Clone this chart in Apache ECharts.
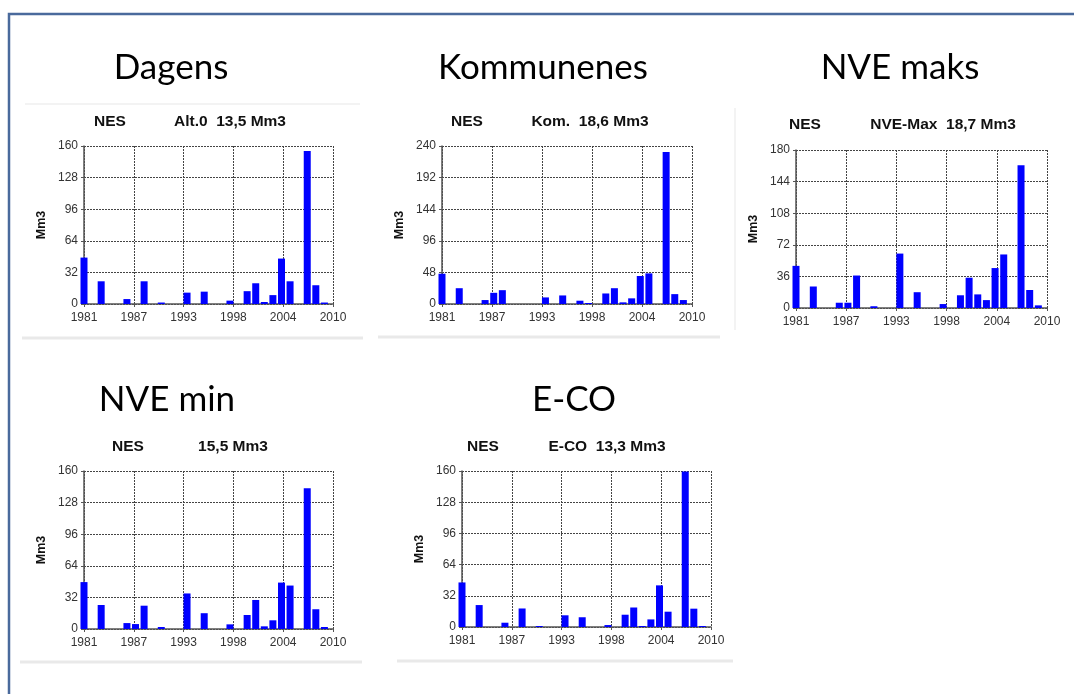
<!DOCTYPE html>
<html>
<head>
<meta charset="utf-8">
<title>NES</title>
<script src="https://cdn.jsdelivr.net/npm/echarts@6/dist/echarts.min.js"></script>
<style>
    html, body { margin: 0; padding: 0; background: #fff; }
    #main { width: 1074px; height: 694px; }
</style>
</head>
<body>
<div id="main"></div>
<script>
// years on the x axis (one bar slot per year)
var years = [1981, 1982, 1983, 1984, 1985, 1986, 1987, 1988, 1989, 1990,
             1991, 1992, 1993, 1994, 1995, 1996, 1997, 1998, 1999, 2000,
             2001, 2002, 2003, 2004, 2005, 2006, 2007, 2008, 2009];
var xTickLabels = ['1981', '1987', '1993', '1998', '2004', '2010'];

// Mm3 per year
var dagens      = [47, 0, 23, 0, 0, 5, 0, 23, 0, 1.5, 0, 0, 11.5, 0, 12.5, 0, 0, 3.4, 0, 13,
                   21, 2, 9, 46, 23, 0, 155, 19, 1.5];
var kommunenes  = [46, 0, 24, 0, 0, 6, 17, 21, 0, 0, 0, 0, 10, 0, 13, 0, 5, 1.5, 0, 16,
                   24, 2.5, 8.6, 42.5, 46.5, 0, 231, 15, 6];
var nveMaks     = [48, 0, 24.5, 0, 0, 6, 6, 37, 0, 2, 0, 0, 62, 0, 18, 0, 0, 4.5, 0, 14.5,
                   34.5, 15.5, 9, 45.5, 61, 0, 162.5, 20.5, 3];
var nveMin      = [47.5, 0, 24.3, 0, 0, 6, 5, 23.6, 0, 2, 0, 0, 36, 0, 16, 0, 0, 4.7, 0, 14.2,
                   29.4, 2.7, 8.8, 47, 44, 0, 142.5, 20, 2];
var eco         = [45.7, 0, 22.5, 0, 0, 4.4, 0, 19, 0, 1, 0, 0, 12, 0, 10, 0, 0, 2, 0, 12.6,
                   20, 1, 7.8, 42.7, 15.7, 0, 159.4, 18.8, 1];

var headings = ['Dagens', 'Kommunenes', 'NVE maks', 'NVE min', 'E-CO'];
var subTitles = ['Alt.0  13,5 Mm3', 'Kom.  18,6 Mm3', 'NVE-Max  18,7 Mm3', '15,5 Mm3', 'E-CO  13,3 Mm3'];
var yMax = [160, 240, 180, 160, 160];
var yStep = [32, 48, 36, 32, 32];

(function () {
    "use strict";

    var yearMin = 1981,
        xSpan = 29,
        xStep = 5.8,
        seriesValues = [dagens, kommunenes, nveMaks, nveMin, eco],
        // layout of each small chart: plot box, heading, NES label, sub title
        panels = [
            { l: 84,  t: 146, w: 249, h: 158, head: [171, 68],  nes: 110, sub: 230, lab: 122 },
            { l: 442, t: 146, w: 250, h: 158, head: [543, 68],  nes: 467, sub: 590, lab: 122 },
            { l: 796, t: 150, w: 251, h: 158, head: [900, 68],  nes: 805, sub: 943, lab: 125 },
            { l: 84,  t: 471, w: 249, h: 158, head: [167, 400], nes: 128, sub: 233, lab: 447 },
            { l: 462, t: 471, w: 249, h: 156, head: [574, 400], nes: 483, sub: 607, lab: 447 }
        ],
        grids = [], xAxes = [], yAxes = [], series = [], graphics = [],
        myChart, i, p;

    myChart = echarts.init(document.getElementById('main'), null, { renderer: 'canvas' });

    // outer frame (open on right and bottom)
    graphics.push({
        type: 'polyline',
        shape: { points: [[9, 694], [9, 14], [1074, 14]] },
        style: { stroke: '#4a6a9c', lineWidth: 2.5, fill: null }
    });
    // faint card edges
    [[22, 338, 363, 338], [378, 337, 720, 337], [20, 662, 362, 662], [397, 661, 733, 661]].forEach(function (s) {
        graphics.push({
            type: 'line',
            shape: { x1: s[0], y1: s[1], x2: s[2], y2: s[3] },
            style: { stroke: '#e9e9e9', lineWidth: 3 }
        });
    });
    graphics.push({
        type: 'line',
        shape: { x1: 25, y1: 104, x2: 360, y2: 104 },
        style: { stroke: '#f3f3f3', lineWidth: 2 }
    });
    graphics.push({
        type: 'line',
        shape: { x1: 735, y1: 108, x2: 735, y2: 330 },
        style: { stroke: '#f3f3f3', lineWidth: 2 }
    });

    for (i = 0; i < panels.length; i++) {
        p = panels[i];

        graphics.push({
            type: 'text',
            x: p.head[0], y: p.head[1],
            style: {
                text: headings[i], align: 'center', verticalAlign: 'middle',
                font: '35px Lato', fill: '#000'
            }
        });
        graphics.push({
            type: 'text',
            x: p.nes, y: p.lab,
            style: {
                text: 'NES', align: 'center', verticalAlign: 'middle',
                font: 'bold 15.5px "Liberation Sans"', fill: '#111'
            }
        });
        graphics.push({
            type: 'text',
            x: p.sub, y: p.lab,
            style: {
                text: subTitles[i], align: 'center', verticalAlign: 'middle',
                font: 'bold 15.5px "Liberation Sans"', fill: '#111'
            }
        });

        grids.push({ left: p.l, top: p.t, width: p.w, height: p.h, containLabel: false });

        xAxes.push({
            type: 'value',
            gridIndex: i,
            min: 0,
            max: xSpan,
            interval: xStep,
            axisLine: { show: true, onZero: false, lineStyle: { color: '#555', width: 1.5 } },
            axisTick: { show: true, length: 3, lineStyle: { color: '#555' } },
            axisLabel: {
                margin: 8,
                color: '#333',
                fontFamily: 'Liberation Sans',
                fontSize: 12,
                formatter: function (v) {
                    return xTickLabels[Math.round(v / xStep)];
                }
            },
            splitLine: { show: true, lineStyle: { color: '#444', type: [2, 1], width: 1 } }
        });

        yAxes.push({
            type: 'value',
            gridIndex: i,
            min: 0,
            max: yMax[i],
            interval: yStep[i],
            name: 'Mm3',
            nameLocation: 'middle',
            nameRotate: 90,
            nameGap: 36,
            nameTextStyle: { fontFamily: 'Liberation Sans', fontWeight: 'bold', fontSize: 12.5, color: '#111' },
            axisLine: { show: true, lineStyle: { color: '#555', width: 1.5 } },
            axisTick: { show: true, length: 3, lineStyle: { color: '#555' } },
            axisLabel: { margin: 6, color: '#333', fontFamily: 'Liberation Sans', fontSize: 12 },
            splitLine: { show: true, lineStyle: { color: '#444', type: [2, 1], width: 1 } }
        });

        series.push({
            name: headings[i],
            type: 'bar',
            xAxisIndex: i,
            yAxisIndex: i,
            barWidth: 7,
            clip: true,
            itemStyle: { color: '#0000ff' },
            data: years.map(function (y, k) {
                return [y - yearMin, seriesValues[i][k]];
            })
        });
    }

    myChart.setOption({
        backgroundColor: '#fff',
        animation: false,
        grid: grids,
        xAxis: xAxes,
        yAxis: yAxes,
        series: series,
        graphic: graphics
    });
})();
</script>
</body>
</html>
